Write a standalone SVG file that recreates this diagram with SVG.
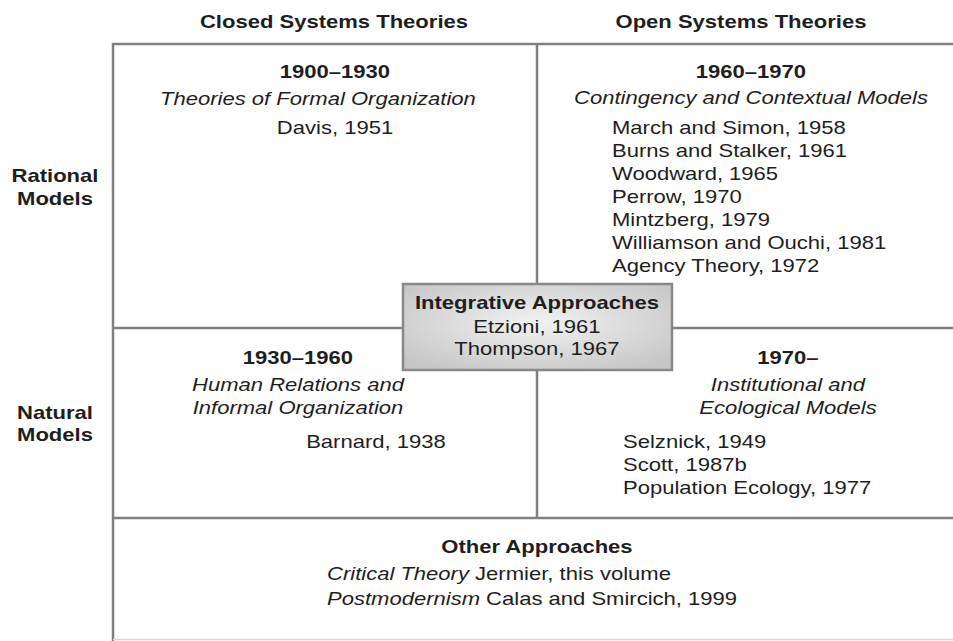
<svg xmlns="http://www.w3.org/2000/svg" width="953" height="641" viewBox="0 0 953 641">
  <defs>
    <radialGradient id="boxFill" cx="50%" cy="45%" r="65%">
      <stop offset="0" stop-color="#f2f2f2"/>
      <stop offset="1" stop-color="#c6c6c6"/>
    </radialGradient>
  </defs>
  <style>
    text { font-family: "Liberation Sans", Arial, sans-serif; font-size: 19px; fill: #1e1e1e; }
    .b { font-weight: bold; }
    .i { font-style: italic; }
    .c { text-anchor: middle; }
    .grid { stroke: #808080; stroke-width: 2.5; fill: none; }
    .faint { stroke: #d8d8d8; stroke-width: 1.5; fill: none; }
    .box { fill: url(#boxFill); stroke: #888888; stroke-width: 2.5; }
  </style>
  <rect width="953" height="641" fill="#ffffff"/>

  <g id="connectors">
    <line class="grid" x1="113" y1="44" x2="953" y2="44"/>
    <line class="grid" x1="113" y1="43" x2="113" y2="641"/>
    <line class="grid" x1="537" y1="44" x2="537" y2="518"/>
    <line class="grid" x1="113" y1="328" x2="953" y2="328"/>
    <line class="grid" x1="113" y1="518" x2="953" y2="518"/>
    <line class="faint" x1="113" y1="639.5" x2="953" y2="639.5"/>
  </g>

  <g id="integrative-box">
    <rect class="box" x="403" y="284" width="269" height="86"/>
  </g>

  <g transform="scale(1.16,1)">
    <g id="header-closed">
      <text class="b c" x="287.9" y="28">Closed Systems Theories</text>
    </g>
    <g id="header-open">
      <text class="b c" x="638.8" y="28">Open Systems Theories</text>
    </g>

    <g id="row-rational">
      <text class="b c" x="47.4" y="182">Rational</text>
      <text class="b c" x="47.4" y="205">Models</text>
    </g>
    <g id="row-natural">
      <text class="b c" x="47.4" y="419">Natural</text>
      <text class="b c" x="47.4" y="441">Models</text>
    </g>

    <g id="rational-closed">
      <text class="b c" x="288.8" y="78">1900–1930</text>
      <text class="i c" x="274.1" y="105">Theories of Formal Organization</text>
      <text class="c" x="288.8" y="134">Davis, 1951</text>
    </g>

    <g id="rational-open">
      <text class="b c" x="647.4" y="78">1960–1970</text>
      <text class="i c" x="647.4" y="104">Contingency and Contextual Models</text>
      <text x="527.6" y="134">March and Simon, 1958</text>
      <text x="527.6" y="157">Burns and Stalker, 1961</text>
      <text x="527.6" y="180">Woodward, 1965</text>
      <text x="527.6" y="203">Perrow, 1970</text>
      <text x="527.6" y="226">Mintzberg, 1979</text>
      <text x="527.6" y="249">Williamson and Ouchi, 1981</text>
      <text x="527.6" y="272">Agency Theory, 1972</text>
    </g>

    <g id="natural-closed">
      <text class="b c" x="256.9" y="364">1930–1960</text>
      <text class="i c" x="256.9" y="391">Human Relations and</text>
      <text class="i c" x="256.9" y="414">Informal Organization</text>
      <text class="c" x="324.1" y="448">Barnard, 1938</text>
    </g>

    <g id="natural-open">
      <text class="b c" x="679.3" y="364">1970–</text>
      <text class="i c" x="679.3" y="391">Institutional and</text>
      <text class="i c" x="679.3" y="414">Ecological Models</text>
      <text x="537.1" y="448">Selznick, 1949</text>
      <text x="537.1" y="471">Scott, 1987b</text>
      <text x="537.1" y="494">Population Ecology, 1977</text>
    </g>

    <g id="integrative">
      <text class="b c" x="462.9" y="309">Integrative Approaches</text>
      <text class="c" x="462.9" y="333">Etzioni, 1961</text>
      <text class="c" x="462.9" y="355">Thompson, 1967</text>
    </g>

    <g id="other">
      <text class="b c" x="462.9" y="553">Other Approaches</text>
      <text x="281.9" y="580"><tspan class="i">Critical Theory</tspan> Jermier, this volume</text>
      <text x="281.9" y="605"><tspan class="i">Postmodernism</tspan> Calas and Smircich, 1999</text>
    </g>
  </g>
</svg>
